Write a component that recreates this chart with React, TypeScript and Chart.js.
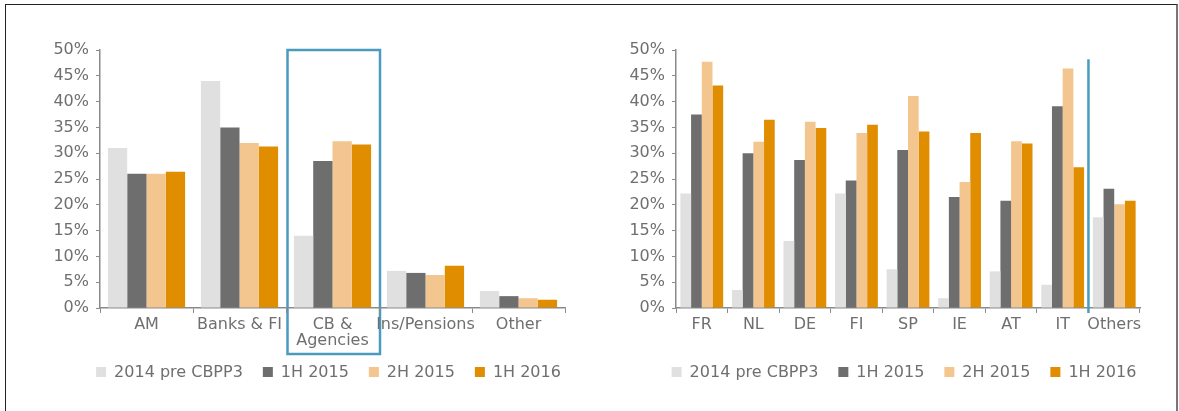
import React, { useEffect, useRef } from "react";
import { Chart, registerables } from "chart.js";

Chart.register(...registerables);

const seriesLabels = ["2014 pre CBPP3", "1H 2015", "2H 2015", "1H 2016"];
const seriesColors = ["#e0e0e0", "#6e6e6e", "#f3c68f", "#e08d00"];

const investorCategories: (string | string[])[] = ["AM", "Banks & FI", ["CB &", "Agencies"], "Ins/Pensions", "Other"];
const investor2014 = [31, 44, 14, 7.2, 3.3];
const investor1H2015 = [26, 35, 28.5, 6.8, 2.3];
const investor2H2015 = [26, 32, 32.3, 6.4, 1.9];
const investor1H2016 = [26.4, 31.3, 31.7, 8.2, 1.6];

const countryCategories = ["FR", "NL", "DE", "FI", "SP", "IE", "AT", "IT", "Others"];
const country2014 = [22.2, 3.5, 13, 22.2, 7.5, 1.9, 7.1, 4.5, 17.6];
const country1H2015 = [37.5, 30, 28.7, 24.7, 30.6, 21.5, 20.8, 39.1, 23.1];
const country2H2015 = [47.7, 32.2, 36.1, 33.9, 41.1, 24.4, 32.3, 46.4, 20.1];
const country1H2016 = [43.1, 36.5, 34.9, 35.5, 34.2, 33.9, 31.9, 27.3, 20.8];

const yMin = 0;
const yMax = 50;
const yStep = 5;

const FONT = "'DejaVu Sans', Verdana, sans-serif";
const TEXT = "#6f6f6f";
const AXIS = "#8a8a8a";
const BLUE = "#4b9bbf";

const legendPlugin = {
  id: "customLegend",
  afterDraw(chart: any) {
    const { ctx, chartArea } = chart;
    const ds = chart.data.datasets;
    ctx.save();
    ctx.font = `16px ${FONT}`;
    const box = 10, gapBox = 8, gapItem = 20;
    const widths = ds.map((d: any) => box + gapBox + ctx.measureText(d.label).width);
    const total = widths.reduce((a: number, b: number) => a + b, 0) + gapItem * (ds.length - 1);
    let x = (chartArea.left + chartArea.right) / 2 - 4 - total / 2;
    const y = 372;
    ctx.textBaseline = "middle";
    ds.forEach((d: any, i: number) => {
      ctx.fillStyle = d.backgroundColor;
      ctx.fillRect(x, y - box / 2, box, box);
      ctx.fillStyle = TEXT;
      ctx.fillText(d.label, x + box + gapBox, y + 1);
      x += widths[i] + gapItem;
    });
    ctx.restore();
  },
};

function makeHighlightRect(index: number) {
  return {
    id: "highlightRect",
    beforeDraw(chart: any) {
      const { ctx } = chart;
      const xs = chart.scales.x;
      const ys = chart.scales.y;
      const half = (xs.getPixelForValue(1) - xs.getPixelForValue(0)) / 2;
      const cx = xs.getPixelForValue(index);
      const left = cx - half + 1.5;
      const right = cx + half + 1;
      const top = ys.getPixelForValue(yMax);
      const bottom = ys.getPixelForValue(yMin) + 46;
      ctx.save();
      ctx.strokeStyle = BLUE;
      ctx.lineWidth = 2.5;
      ctx.strokeRect(left, top, right - left, bottom - top);
      ctx.restore();
    },
  };
}

function makeDivider(index: number) {
  return {
    id: "divider",
    afterDraw(chart: any) {
      const { ctx } = chart;
      const xs = chart.scales.x;
      const ys = chart.scales.y;
      const x = (xs.getPixelForValue(index - 1) + xs.getPixelForValue(index)) / 2;
      ctx.save();
      ctx.strokeStyle = BLUE;
      ctx.lineWidth = 2.5;
      ctx.beginPath();
      ctx.moveTo(x, ys.getPixelForValue(48.2));
      ctx.lineTo(x, ys.getPixelForValue(yMin) + 5);
      ctx.stroke();
      ctx.restore();
    },
  };
}

type Props = {
  left: number;
  width: number;
  categories: (string | string[])[];
  series: number[][];
  yWidth: number;
  padRight: number;
  plugin: any;
};

function BarChart({ left, width, categories, series, yWidth, padRight, plugin }: Props) {
  const ref = useRef<HTMLCanvasElement | null>(null);
  useEffect(() => {
    if (!ref.current) return;
    const chart = new Chart(ref.current, {
      type: "bar",
      data: {
        labels: categories as any,
        datasets: series.map((s, i) => ({
          label: seriesLabels[i],
          data: s,
          backgroundColor: seriesColors[i],
          borderWidth: 0,
          categoryPercentage: 0.83,
          barPercentage: 1,
        })),
      },
      options: {
        responsive: false,
        animation: false,
        layout: { padding: { left: 0, right: padRight, top: 50, bottom: 63 } },
        plugins: { legend: { display: false }, tooltip: { enabled: false } },
        scales: {
          x: {
            afterFit: (s: any) => { s.height = 40; },
            grid: { display: true, drawOnChartArea: false, drawTicks: true, tickLength: 5, color: AXIS, offset: true },
            border: { display: true, color: AXIS, width: 1.5 },
            ticks: { color: TEXT, font: { family: FONT, size: 16, lineHeight: 1.0 }, padding: 4, maxRotation: 0, autoSkip: false },
          },
          y: {
            min: yMin,
            max: yMax,
            afterFit: (s: any) => { s.width = yWidth; },
            grid: { display: true, drawOnChartArea: false, drawTicks: true, tickLength: 4, color: AXIS },
            border: { display: true, color: AXIS, width: 1.5 },
            ticks: { stepSize: yStep, color: TEXT, font: { family: FONT, size: 16 }, padding: 7, callback: (v: any) => `${v}%` },
          },
        },
      },
      plugins: [legendPlugin, plugin],
    });
    return () => chart.destroy();
  }, []);
  return (
    <canvas
      ref={ref}
      width={width}
      height={411}
      style={{ position: "absolute", left, top: 0, width, height: 411 }}
    />
  );
}

export default function App() {
  return (
    <div style={{ position: "absolute", left: 0, top: 0, width: 1179, height: 411, overflow: "hidden", background: "#fff" }}>
      <div
        style={{
          position: "absolute",
          left: 5,
          top: 4,
          width: 1173,
          height: 430,
          borderTop: "1.5px solid #222",
          borderLeft: "1.5px solid #222",
          borderRight: "2px solid #777",
          boxSizing: "border-box",
        }}
      />
      <BarChart
        left={0}
        width={590}
        categories={investorCategories}
        series={[investor2014, investor1H2015, investor2H2015, investor1H2016]}
        yWidth={100}
        padRight={25}
        plugin={makeHighlightRect(2)}
      />
      <BarChart
        left={590}
        width={589}
        categories={countryCategories}
        series={[country2014, country1H2015, country2H2015, country1H2016]}
        yWidth={86}
        padRight={39}
        plugin={makeDivider(8)}
      />
    </div>
  );
}
